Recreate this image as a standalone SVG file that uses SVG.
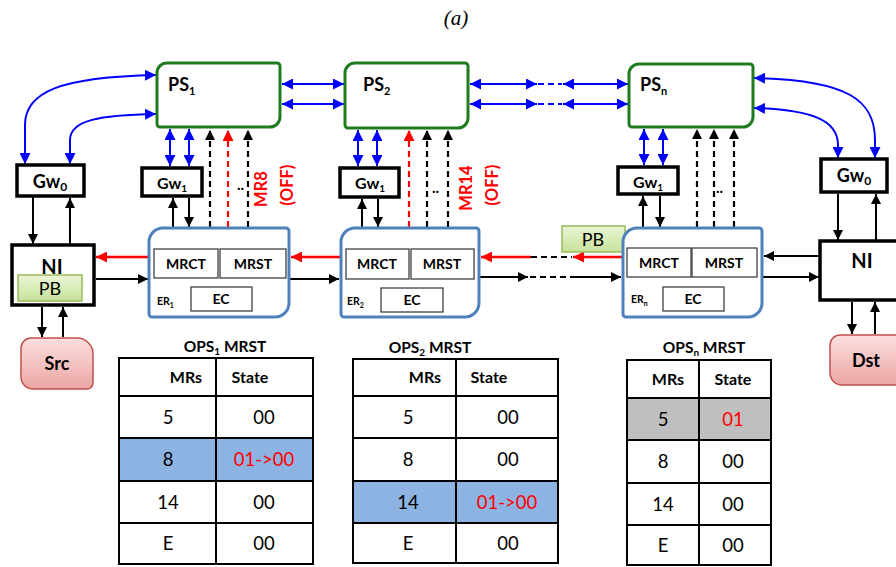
<svg xmlns="http://www.w3.org/2000/svg" width="896" height="567" viewBox="0 0 896 567">
<defs>
<linearGradient id="gPB" x1="0" y1="0" x2="0" y2="1"><stop offset="0" stop-color="#eaf5d6"/><stop offset="1" stop-color="#c6e29a"/></linearGradient>
<linearGradient id="gSrc" x1="0" y1="0" x2="0" y2="1"><stop offset="0" stop-color="#fbe0df"/><stop offset="1" stop-color="#eba5a3"/></linearGradient>
<marker id="mk" viewBox="0 0 10 10" refX="10" refY="5" markerWidth="10" markerHeight="10" markerUnits="userSpaceOnUse" orient="auto-start-reverse"><path d="M0,0 L10,5 L0,10 Z" fill="#000"/></marker>
<marker id="mr" viewBox="0 0 10 10" refX="10" refY="5" markerWidth="11" markerHeight="11" markerUnits="userSpaceOnUse" orient="auto-start-reverse"><path d="M0,0 L10,5 L0,10 Z" fill="#ff0000"/></marker>
<marker id="mb" viewBox="0 0 10 10" refX="10" refY="5" markerWidth="11" markerHeight="11" markerUnits="userSpaceOnUse" orient="auto-start-reverse"><path d="M0,0 L10,5 L0,10 Z" fill="#0000ff"/></marker>
</defs>
<style>
text{font-family:Lato,"Liberation Sans",sans-serif;fill:#000}
.b{font-weight:bold}
.ps{fill:#fff;stroke:#1e7b1e;stroke-width:3}
.er{fill:#fff;stroke:#4f81bd;stroke-width:3}
.gw{fill:#fff;stroke:#000;stroke-width:3.5}
.in{fill:#fff;stroke:#404040;stroke-width:1.3}
.pb{fill:url(#gPB);stroke:#9bbb59;stroke-width:1.5}
.sd{fill:url(#gSrc);stroke:#c0504d;stroke-width:1.5}
.bl{fill:none;stroke:#0000ff;stroke-width:2}
.bk{fill:none;stroke:#000;stroke-width:2}
.rd{fill:none;stroke:#ff0000;stroke-width:2.5}
.dk{fill:none;stroke:#000;stroke-width:2.2;stroke-dasharray:6 4}
.dr{fill:none;stroke:#ff0000;stroke-width:2.2;stroke-dasharray:6 4}
.db{fill:none;stroke:#0000ff;stroke-width:2;stroke-dasharray:6 4}
.tb{fill:none;stroke:#000;stroke-width:2}
.c{text-anchor:middle}
.v{font-size:18.5px}
.h{font-size:16px;font-weight:bold}
.t{font-size:15.5px;font-weight:bold}
.m{font-size:14px;font-weight:bold}
.red{fill:#ff0000}
</style>
<text x="456" y="25" class="c" style="font-family:'Liberation Serif',serif;font-style:italic;font-size:21px">(a)</text>

<g id="connectors">
<path class="bl" d="M25,164 L25,125 C25,92 60,77 156,75" marker-start="url(#mb)" marker-end="url(#mb)"/>
<path class="bl" d="M70,164 L70,140 C70,120 100,115 156,114" marker-start="url(#mb)" marker-end="url(#mb)"/>
<path class="bl" d="M754,78 C848,80 875,100 875,140 L875,158" marker-start="url(#mb)" marker-end="url(#mb)"/>
<path class="bl" d="M754,108 C812,110 838,120 838,145 L838,158" marker-start="url(#mb)" marker-end="url(#mb)"/>
<path class="bl" d="M282,84 H344" marker-start="url(#mb)" marker-end="url(#mb)"/>
<path class="bl" d="M282,104 H344" marker-start="url(#mb)" marker-end="url(#mb)"/>
<path class="bl" d="M470,84 H537" marker-start="url(#mb)" marker-end="url(#mb)"/>
<path class="bl" d="M470,104 H537" marker-start="url(#mb)" marker-end="url(#mb)"/>
<path class="db" d="M538,84 H562"/>
<path class="db" d="M538,104 H562"/>
<path class="bl" d="M563,84 H628" marker-start="url(#mb)" marker-end="url(#mb)"/>
<path class="bl" d="M563,104 H628" marker-start="url(#mb)" marker-end="url(#mb)"/>
<path class="bl" d="M170,129 V166" marker-start="url(#mb)" marker-end="url(#mb)"/>
<path class="bl" d="M189,129 V166" marker-start="url(#mb)" marker-end="url(#mb)"/>
<path class="bl" d="M358,130 V166" marker-start="url(#mb)" marker-end="url(#mb)"/>
<path class="bl" d="M377,130 V166" marker-start="url(#mb)" marker-end="url(#mb)"/>
<path class="bl" d="M644,129 V165" marker-start="url(#mb)" marker-end="url(#mb)"/>
<path class="bl" d="M663,129 V165" marker-start="url(#mb)" marker-end="url(#mb)"/>
<path class="bk" d="M173,227 V198" marker-end="url(#mk)"/>
<path class="bk" d="M189,198 V227" marker-end="url(#mk)"/>
<path class="bk" d="M362,227 V199" marker-end="url(#mk)"/>
<path class="bk" d="M378,199 V227" marker-end="url(#mk)"/>
<path class="bk" d="M643,227 V196" marker-end="url(#mk)"/>
<path class="bk" d="M660,196 V227" marker-end="url(#mk)"/>
<path class="dk" d="M210,227 V130" marker-end="url(#mk)"/>
<path class="dr" d="M228,227 V130" marker-end="url(#mr)"/>
<path class="dk" d="M248,227 V130" marker-end="url(#mk)"/>
<path class="dr" d="M409,227 V130" marker-end="url(#mr)"/>
<path class="dk" d="M427,227 V130" marker-end="url(#mk)"/>
<path class="dk" d="M448,227 V130" marker-end="url(#mk)"/>
<path class="dk" d="M697,227 V129" marker-end="url(#mk)"/>
<path class="dk" d="M714,227 V129" marker-end="url(#mk)"/>
<path class="dk" d="M734,227 V129" marker-end="url(#mk)"/>
<path class="bk" d="M33,197 V244" marker-end="url(#mk)"/>
<path class="bk" d="M70,244 V198" marker-end="url(#mk)"/>
<path class="bk" d="M42,307 V337" marker-end="url(#mk)"/>
<path class="bk" d="M63,337 V307" marker-end="url(#mk)"/>
<path class="bk" d="M838,194 V240" marker-end="url(#mk)"/>
<path class="bk" d="M876,240 V194" marker-end="url(#mk)"/>
<path class="bk" d="M852,302 V334" marker-end="url(#mk)"/>
<path class="bk" d="M875,334 V302" marker-end="url(#mk)"/>
<path class="rd" d="M148,257 H96" marker-end="url(#mr)"/>
<path class="bk" d="M96,279 H148" marker-end="url(#mk)"/>
<path class="rd" d="M340,257 H291" marker-end="url(#mr)"/>
<path class="bk" d="M290,279 H339" marker-end="url(#mk)"/>
<path class="rd" d="M623,257 H573" marker-end="url(#mr)"/>
<path class="dk" d="M531,257 H572"/>
<path class="rd" d="M531,257 H481" marker-end="url(#mr)"/>
<path class="bk" d="M480,277 H528" marker-end="url(#mk)"/>
<path class="dk" d="M530,277 H570"/>
<path class="bk" d="M570,277 H621" marker-end="url(#mk)"/>
<path class="bk" d="M818,256 H764" marker-end="url(#mk)"/>
<path class="bk" d="M763,277 H819" marker-end="url(#mk)"/>
</g>

<text x="237" y="190" class="b" style="font-size:15px">..</text>
<text x="432" y="193" class="b" style="font-size:15px">..</text>
<text x="716" y="193" class="b" style="font-size:15px">..</text>
<text transform="translate(267,189) rotate(-90)" class="c b red" style="font-size:16.5px">MR8</text>
<text transform="translate(293,185) rotate(-90)" class="c b red" style="font-size:16.5px">(OFF)</text>
<text transform="translate(472,188) rotate(-90)" class="c b red" style="font-size:16.5px">MR14</text>
<text transform="translate(498,185) rotate(-90)" class="c b red" style="font-size:16.5px">(OFF)</text>

<g id="PS1"><path class="ps" d="M167,63 H277 A3 3 0 0 1 280,66 V117 A10 10 0 0 1 270,127 H160 A3 3 0 0 1 157,124 V73 A10 10 0 0 1 167,63 Z"/><text x="168" y="91" class="b" style="font-size:18px">PS<tspan dy="4" style="font-size:11px">1</tspan></text></g>
<g id="PS2"><path class="ps" d="M355,63 H465 A3 3 0 0 1 468,66 V118 A10 10 0 0 1 458,128 H348 A3 3 0 0 1 345,125 V73 A10 10 0 0 1 355,63 Z"/><text x="363" y="91" class="b" style="font-size:18px">PS<tspan dy="4" style="font-size:11px">2</tspan></text></g>
<g id="PSn"><path class="ps" d="M639,64 H750 A3 3 0 0 1 753,67 V117 A10 10 0 0 1 743,127 H632 A3 3 0 0 1 629,124 V74 A10 10 0 0 1 639,64 Z"/><text x="640" y="91" class="b" style="font-size:18px">PS<tspan dy="4" style="font-size:11px">n</tspan></text></g>

<g id="Gw0L"><rect class="gw" x="17" y="165" width="67" height="31"/><text x="50" y="188" class="c b" style="font-size:18px">Gw<tspan dy="3" style="font-size:12px">0</tspan></text></g>
<g id="Gw1a"><rect class="gw" x="142" y="168" width="60" height="28"/><text x="172" y="189" class="c b" style="font-size:16px">Gw<tspan dy="3" style="font-size:10px">1</tspan></text></g>
<g id="Gw1b"><rect class="gw" x="340" y="168" width="59" height="29"/><text x="370" y="189" class="c b" style="font-size:16px">Gw<tspan dy="3" style="font-size:10px">1</tspan></text></g>
<g id="Gw1n"><rect class="gw" x="618" y="167" width="60" height="27"/><text x="648" y="188" class="c b" style="font-size:16px">Gw<tspan dy="3" style="font-size:10px">1</tspan></text></g>
<g id="Gw0R"><rect class="gw" x="821" y="159" width="66" height="33"/><text x="854" y="182" class="c b" style="font-size:18px">Gw<tspan dy="3" style="font-size:12px">0</tspan></text></g>

<g id="NIL"><rect class="gw" x="12" y="245" width="82" height="60"/><text x="52" y="274" class="c b" style="font-size:20px">NI</text>
<rect class="pb" x="18" y="275" width="64" height="26"/><text x="50" y="295" class="c" style="font-size:18px">PB</text></g>
<g id="Src"><path class="sd" d="M31,338 H77 A16 16 0 0 1 93,354 V383 A6 6 0 0 1 87,389 H33 A12 12 0 0 1 21,377 V348 A10 10 0 0 1 31,338 Z"/><text x="57" y="370" class="c b" style="font-size:18px">Src</text></g>
<g id="NIR"><rect class="gw" x="820" y="241" width="90" height="59"/><text x="862" y="268" class="c b" style="font-size:20px">NI</text></g>
<g id="Dst"><path class="sd" d="M840,335 H894 A16 16 0 0 1 910,351 V379 A6 6 0 0 1 904,385 H842 A12 12 0 0 1 830,373 V345 A10 10 0 0 1 840,335 Z"/><text x="866" y="367" class="c b" style="font-size:18px">Dst</text></g>
<g id="PBn"><rect class="pb" x="562" y="226" width="63" height="26"/><text x="593" y="246" class="c" style="font-size:18px">PB</text></g>

<g id="ER1"><path class="er" d="M163,228 H286 A3 3 0 0 1 289,231 V303 A14 14 0 0 1 275,317 H152 A3 3 0 0 1 149,314 V242 A14 14 0 0 1 163,228 Z"/>
<rect class="in" x="154" y="249" width="64" height="29"/><rect class="in" x="220" y="249" width="66" height="29"/><rect class="in" x="191" y="287" width="61" height="24"/>
<text x="186" y="269" class="c m">MRCT</text><text x="253" y="269" class="c m">MRST</text><text x="221" y="304" class="c m">EC</text>
<text x="157" y="305" class="b" style="font-size:10.5px">ER<tspan dy="3" style="font-size:7px">1</tspan></text></g>
<g id="ER2"><path class="er" d="M355,228 H476 A3 3 0 0 1 479,231 V303 A14 14 0 0 1 465,317 H344 A3 3 0 0 1 341,314 V242 A14 14 0 0 1 355,228 Z"/>
<rect class="in" x="346" y="249" width="63" height="30"/><rect class="in" x="411" y="249" width="63" height="30"/><rect class="in" x="381" y="288" width="62" height="24"/>
<text x="377" y="269" class="c m">MRCT</text><text x="442" y="269" class="c m">MRST</text><text x="412" y="305" class="c m">EC</text>
<text x="347" y="305" class="b" style="font-size:10.5px">ER<tspan dy="3" style="font-size:7px">2</tspan></text></g>
<g id="ERn"><path class="er" d="M637,228 H759 A3 3 0 0 1 762,231 V303 A14 14 0 0 1 748,317 H626 A3 3 0 0 1 623,314 V242 A14 14 0 0 1 637,228 Z"/>
<rect class="in" x="627" y="248" width="64" height="29"/><rect class="in" x="692" y="248" width="65" height="29"/><rect class="in" x="663" y="287" width="61" height="24"/>
<text x="659" y="268" class="c m">MRCT</text><text x="724" y="268" class="c m">MRST</text><text x="693" y="304" class="c m">EC</text>
<text x="631" y="303" class="b" style="font-size:10.5px">ER<tspan dy="3" style="font-size:7px">n</tspan></text></g>

<g id="T1">
<rect x="119" y="438" width="194" height="43" fill="#8db3e2"/>
<rect class="tb" x="119" y="358" width="194" height="206"/>
<path class="tb" d="M216,358 V564 M119,396 H313 M119,438 H313 M119,481 H313 M119,523 H313"/>
<text x="225" y="352" class="c t">OPS<tspan dy="3" style="font-size:10px">1</tspan><tspan dy="-3"> MRST</tspan></text>
<text x="186" y="383" class="c h">MRs</text><text x="250" y="383" class="c h">State</text>
<text x="168" y="424" class="c v">5</text><text x="264" y="424" class="c v">00</text>
<text x="168" y="466" class="c v">8</text><text x="264" y="466" class="c v red">01-&gt;00</text>
<text x="168" y="509" class="c v">14</text><text x="264" y="509" class="c v">00</text>
<text x="168" y="550" class="c v">E</text><text x="264" y="550" class="c v">00</text>
</g>
<g id="T2">
<rect x="353" y="481" width="205" height="42" fill="#8db3e2"/>
<rect class="tb" x="353" y="359" width="205" height="204"/>
<path class="tb" d="M456,359 V563 M353,396 H558 M353,438 H558 M353,481 H558 M353,523 H558"/>
<text x="430" y="353" class="c t">OPS<tspan dy="3" style="font-size:10px">2</tspan><tspan dy="-3"> MRST</tspan></text>
<text x="425" y="383" class="c h">MRs</text><text x="489" y="383" class="c h">State</text>
<text x="408" y="424" class="c v">5</text><text x="508" y="424" class="c v">00</text>
<text x="408" y="466" class="c v">8</text><text x="508" y="466" class="c v">00</text>
<text x="408" y="509" class="c v">14</text><text x="507" y="509" class="c v red">01-&gt;00</text>
<text x="408" y="550" class="c v">E</text><text x="508" y="550" class="c v">00</text>
</g>
<g id="Tn">
<rect x="627" y="398" width="144" height="42" fill="#bfbfbf"/>
<rect class="tb" x="627" y="360" width="144" height="205"/>
<path class="tb" d="M699,360 V565 M627,398 H771 M627,440 H771 M627,483 H771 M627,525 H771"/>
<text x="704" y="353" class="c t">OPS<tspan dy="3" style="font-size:10px">n</tspan><tspan dy="-3"> MRST</tspan></text>
<text x="668" y="385" class="c h">MRs</text><text x="733" y="385" class="c h">State</text>
<text x="663" y="426" class="c v">5</text><text x="733" y="426" class="c v red">01</text>
<text x="663" y="468" class="c v">8</text><text x="733" y="468" class="c v">00</text>
<text x="663" y="511" class="c v">14</text><text x="733" y="511" class="c v">00</text>
<text x="663" y="552" class="c v">E</text><text x="733" y="552" class="c v">00</text>
</g>
</svg>
